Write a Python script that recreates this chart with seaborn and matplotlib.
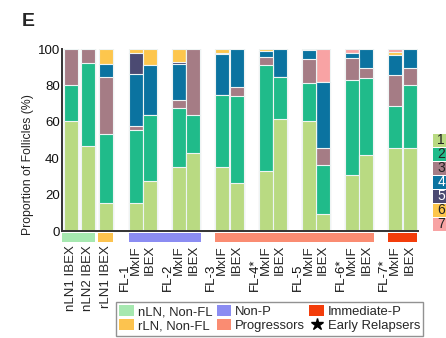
import numpy as np
import pandas as pd
import matplotlib
matplotlib.use("Agg")
import matplotlib.pyplot as plt
from matplotlib.patches import Rectangle, Patch
from matplotlib.lines import Line2D
import seaborn as sns

# ---- data -------------------------------------------------------------
samples = ["nLN1", "nLN2", "rLN1",
           "FL-1", "FL-1", "FL-2", "FL-2", "FL-3", "FL-3", "FL-4", "FL-4",
           "FL-5", "FL-5", "FL-6", "FL-6", "FL-7", "FL-7"]
platforms = ["IBEX", "IBEX", "IBEX",
             "MxIF", "IBEX", "MxIF", "IBEX", "MxIF", "IBEX", "MxIF", "IBEX",
             "MxIF", "IBEX", "MxIF", "IBEX", "MxIF", "IBEX"]
fl_names = ["FL-1", "FL-2", "FL-3", "FL-4*", "FL-5", "FL-6*", "FL-7*"]

# percentage of follicles in each cluster (1..7) per sample
cluster_1 = [60.5, 46.5, 15.5, 15.5, 27.5, 35.0, 43.0, 35.0, 26.5, 33.0, 61.5, 60.5, 9.5, 30.5, 42.0, 45.5, 45.5]
cluster_2 = [19.5, 46.0, 38.0, 40.0, 36.0, 32.5, 21.0, 39.5, 47.5, 58.0, 23.0, 21.0, 27.0, 52.5, 42.0, 23.0, 34.5]
cluster_3 = [20.0, 7.5, 31.0, 2.0, 0.0, 4.5, 36.0, 0.0, 5.0, 4.5, 0.0, 13.0, 9.0, 12.0, 5.5, 17.0, 9.5]
cluster_4 = [0.0, 0.0, 7.5, 29.0, 27.5, 20.0, 0.0, 22.5, 21.0, 3.5, 15.5, 5.0, 36.5, 3.0, 10.5, 11.0, 10.5]
cluster_5 = [0.0, 0.0, 0.0, 11.5, 0.0, 1.0, 0.0, 1.0, 0.0, 0.0, 0.0, 0.0, 0.0, 0.0, 0.0, 0.0, 0.0]
cluster_6 = [0.0, 0.0, 8.0, 2.0, 9.0, 7.0, 0.0, 2.0, 0.0, 1.0, 0.0, 0.5, 0.0, 0.0, 0.0, 2.0, 0.0]
cluster_7 = [0.0, 0.0, 0.0, 0.0, 0.0, 0.0, 0.0, 0.0, 0.0, 0.0, 0.0, 0.0, 18.0, 2.0, 0.0, 1.5, 0.0]
cluster_names = ["1", "2", "3", "4", "5", "6", "7"]

group_names = ["nLN, Non-FL", "rLN, Non-FL", "Non-P", "Progressors", "Immediate-P"]

# ---- styling ------------------------------------------------------------
cluster_colors = ["#b9da82", "#20bb8a", "#a57c85", "#0b73a0", "#4b4a72", "#fdc64d", "#f8a3a4"]
number_colors = ["#222222", "#222222", "#222222", "white", "white", "#222222", "#222222"]
group_colors = ["#a6e8b0", "#fcc34f", "#8b8cf2", "#fa8c72", "#f33d0b"]
# horizontal extent (data units) of each group bar under the axis
group_spans = [(-0.6, 1.7), (1.9, 2.9), (4.0, 9.0), (10.0, 21.0), (22.0, 24.0)]

sns.set_style("white")
plt.rcParams["font.family"] = ["Liberation Sans", "DejaVu Sans"]

# bar centres: three single lymph-node bars, then MxIF/IBEX pairs
x_pos = [0.0, 1.2, 2.4] + [p + d for p in (4.5, 7.5, 10.5, 13.5, 16.5, 19.5, 22.5) for d in (0.0, 1.0)]

W, H = 446, 338
fig = plt.figure(figsize=(W / 100, H / 100), dpi=100)
ax = fig.add_axes([62 / W, 1 - 231 / H, (418 - 62) / W, (231 - 49) / H])

clusters = np.array([cluster_1, cluster_2, cluster_3, cluster_4, cluster_5, cluster_6, cluster_7])
cum = np.cumsum(clusters, axis=0)

# stacked bars: draw cumulative totals from the top segment down
for k in range(6, -1, -1):
    df = pd.DataFrame({"x": x_pos, "y": cum[k]})
    sns.barplot(data=df, x="x", y="y", native_scale=True, color=cluster_colors[k],
                saturation=1, width=0.97, errorbar=None, edgecolor="#eef4f4",
                linewidth=0.8, ax=ax)

ax.set_xlim(-0.62, 24.08)
ax.set_ylim(0, 100)
ax.set_yticks([0, 20, 40, 60, 80, 100])
ax.tick_params(axis="y", length=0, pad=1.5, labelsize=9.5, colors="#111111")
ax.set_xticks(x_pos)
tick_labels = [f"{s} {p}" if i < 3 else p for i, (s, p) in enumerate(zip(samples, platforms))]
ax.set_xticklabels(tick_labels, rotation=90, fontsize=9.5, va="top", ha="center")
ax.tick_params(axis="x", length=0, pad=10)
ax.set_xlabel("")
ax.set_ylabel("")
for side in ("top", "right"):
    ax.spines[side].set_visible(False)
for side in ("left", "bottom"):
    ax.spines[side].set_color("#333333")
    ax.spines[side].set_linewidth(1.4)

xt = ax.get_xaxis_transform()
# group colour strips below the axis
for (x0, x1), c in zip(group_spans, group_colors):
    ax.add_patch(Rectangle((x0, -0.06), x1 - x0, 0.049, transform=xt,
                           color=c, clip_on=False, lw=0))

# follicular lymphoma sample names, left of each MxIF/IBEX pair
for name, p in zip(fl_names, (4.5, 7.5, 10.5, 13.5, 16.5, 19.5, 22.5)):
    ax.text(p - 0.76, -0.33, name, transform=xt, rotation=90, fontsize=9.5,
            ha="center", va="bottom", color="#111111")

fig.text(28 / W, 1 - 165 / H, "Proportion of Follicles (%)", rotation=90,
         ha="center", va="center", fontsize=8.8, color="#222222")
fig.text(22 / W, 1 - 21 / H, "E", fontsize=14, fontweight="bold", ha="left", va="center")

# cluster colour key on the right
for i, (name, c, tc) in enumerate(zip(cluster_names, cluster_colors, number_colors)):
    top = 134 + 14 * i
    fig.add_artist(Rectangle((433 / W, 1 - (top + 13) / H), 16 / W, 13 / H,
                             transform=fig.transFigure, color=c, lw=0))
    fig.text(441 / W, 1 - (top + 6.5) / H, name, fontsize=10, color=tc,
             ha="center", va="center")

# group legend
handles = [Patch(facecolor=c, edgecolor="none") for c in group_colors]
handles.append(Line2D([], [], marker="*", color="black", linestyle="none", markersize=9))
labels = group_names + ["Early Relapsers"]
leg = fig.legend(handles, labels,
                 loc="upper left", bbox_to_anchor=(116 / W, 1 - 302 / H), ncol=3,
                 fontsize=9.4, frameon=True, fancybox=False, borderpad=0.25,
                 labelspacing=0.1, handletextpad=0.3, columnspacing=0.35,
                 handlelength=1.1, handleheight=0.9, borderaxespad=0)
leg.get_frame().set_edgecolor("#777777")
leg.get_frame().set_linewidth(1.0)

fig.savefig("out.png", dpi=100)
